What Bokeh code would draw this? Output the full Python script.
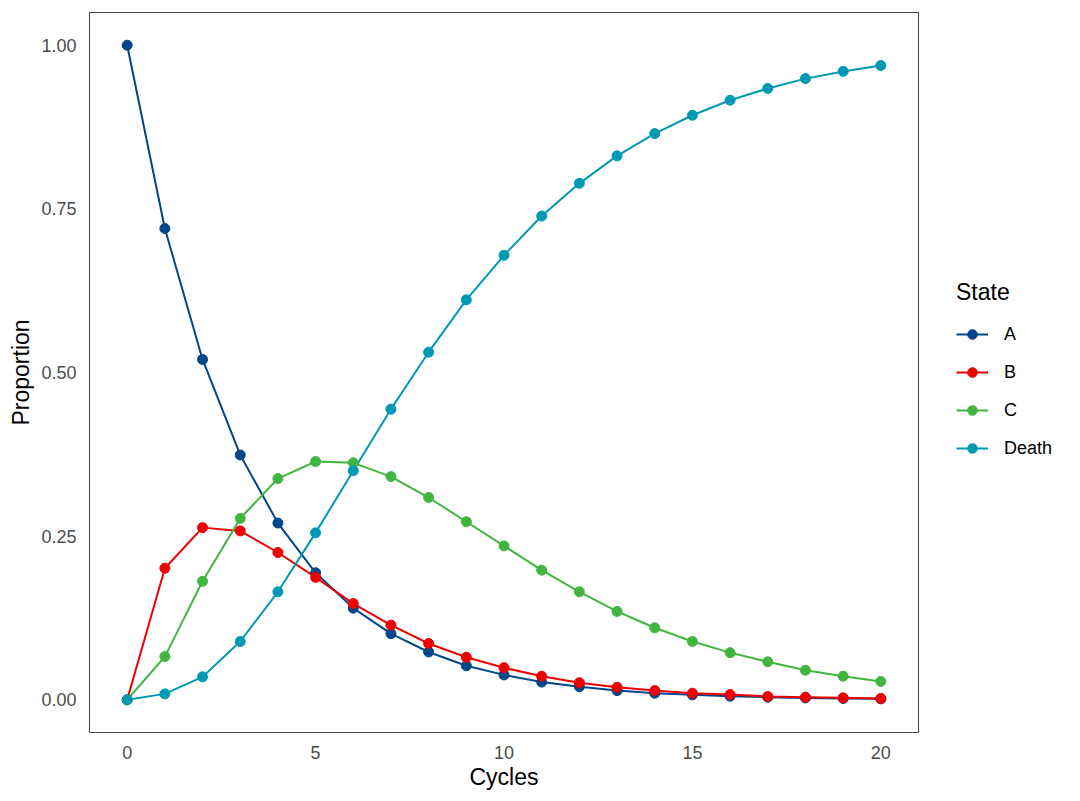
from bokeh.plotting import figure
from bokeh.layouts import row
from bokeh.models import Legend, LegendItem, FixedTicker, PrintfTickFormatter, Range1d, ColumnDataSource
from bokeh.embed import file_html
from bokeh.resources import INLINE

cycles = list(range(21))
state_a = [1.000, 0.720, 0.520, 0.374, 0.270, 0.194, 0.140, 0.101, 0.073, 0.052, 0.038,
           0.027, 0.020, 0.014, 0.010, 0.0075, 0.0054, 0.0039, 0.0028, 0.0020, 0.0014]
state_b = [0.000, 0.201, 0.263, 0.258, 0.225, 0.187, 0.147, 0.114, 0.086, 0.065, 0.049,
           0.036, 0.026, 0.019, 0.014, 0.010, 0.008, 0.005, 0.004, 0.003, 0.002]
state_c = [0.000, 0.066, 0.181, 0.277, 0.338, 0.364, 0.362, 0.341, 0.309, 0.272, 0.235,
           0.198, 0.165, 0.135, 0.110, 0.089, 0.072, 0.058, 0.045, 0.036, 0.028]
state_death = [0.000, 0.009, 0.035, 0.089, 0.165, 0.255, 0.350, 0.444, 0.531, 0.611, 0.679,
               0.739, 0.789, 0.831, 0.865, 0.893, 0.916, 0.934, 0.949, 0.960, 0.969]
state_names = ["A", "B", "C", "Death"]
state_colors = ["#00468B", "#ED0000", "#42B540", "#0099B4"]
x_ticks = [0, 5, 10, 15, 20]
y_ticks = [0.0, 0.25, 0.5, 0.75, 1.0]

FONT = "Liberation Sans"
H = 792

p = figure(width=928, height=H, output_backend="svg", toolbar_location=None,
           x_range=Range1d(-1.0, 21.0), y_range=Range1d(-0.05, 1.05),
           min_border_left=89, min_border_top=12, min_border_bottom=60, min_border_right=10)
p.background_fill_color = "white"
p.border_fill_color = "white"
p.outline_line_color = "#4d4d4d"
p.outline_line_width = 1.1
p.xgrid.visible = False
p.ygrid.visible = False

series = [state_a, state_b, state_c, state_death]
for vals, col in zip(series, state_colors):
    src = ColumnDataSource(dict(x=cycles, y=vals))
    p.line("x", "y", source=src, line_color=col, line_width=2)
for vals, col in zip(series, state_colors):
    src = ColumnDataSource(dict(x=cycles, y=vals))
    p.scatter("x", "y", source=src, size=10, fill_color=col, line_color=col)

for ax in (p.xaxis[0], p.yaxis[0]):
    ax.axis_line_color = None
    ax.major_tick_line_color = None
    ax.minor_tick_line_color = None
    ax.major_tick_out = 0
    ax.major_tick_in = 0
    ax.major_label_text_font = FONT
    ax.major_label_text_font_size = "18px"
    ax.major_label_text_color = "#4d4d4d"
    ax.axis_label_text_font = FONT
    ax.axis_label_text_font_size = "23px"
    ax.axis_label_text_font_style = "normal"
    ax.axis_label_text_color = "black"

p.xaxis[0].ticker = FixedTicker(ticks=x_ticks)
p.yaxis[0].ticker = FixedTicker(ticks=y_ticks)
p.yaxis[0].formatter = PrintfTickFormatter(format="%.2f")
p.xaxis[0].axis_label = "Cycles"
p.yaxis[0].axis_label = "Proportion"
p.xaxis[0].major_label_standoff = 13
p.yaxis[0].major_label_standoff = 13
p.xaxis[0].axis_label_standoff = 2
p.yaxis[0].axis_label_standoff = 4

# legend panel (keys for the same series; key glyphs sit outside the visible range)
lg = figure(width=136, height=H, output_backend="svg", toolbar_location=None,
            x_range=Range1d(0, 1), y_range=Range1d(0, 1),
            min_border_left=0, min_border_right=0, min_border_top=0, min_border_bottom=0)
lg.axis.visible = False
lg.grid.visible = False
lg.outline_line_color = None
lg.background_fill_color = "white"
lg.border_fill_color = "white"
items = []
for n, col in zip(state_names, state_colors):
    key_src = ColumnDataSource(dict(x=[5, 6], y=[5, 5]))
    lr = lg.line("x", "y", source=key_src, line_color=col, line_width=2)
    sr = lg.scatter("x", "y", source=key_src, size=10, fill_color=col, line_color=col)
    items.append(LegendItem(label=n, renderers=[lr, sr]))
legend = Legend(items=items, title="State", location=(28, 272))
legend.title_text_font = FONT
legend.title_text_font_size = "23px"
legend.title_text_font_style = "normal"
legend.title_text_color = "black"
legend.title_standoff = 16
legend.label_text_font = FONT
legend.label_text_font_size = "18px"
legend.label_text_color = "black"
legend.glyph_width = 32
legend.glyph_height = 24
legend.label_height = 24
legend.label_standoff = 16
legend.spacing = 14
legend.margin = 0
legend.padding = 10
legend.border_line_color = None
legend.background_fill_alpha = 0
lg.add_layout(legend)

layout = row(p, lg, spacing=0)
open("out.html", "w").write(file_html(layout, INLINE))
